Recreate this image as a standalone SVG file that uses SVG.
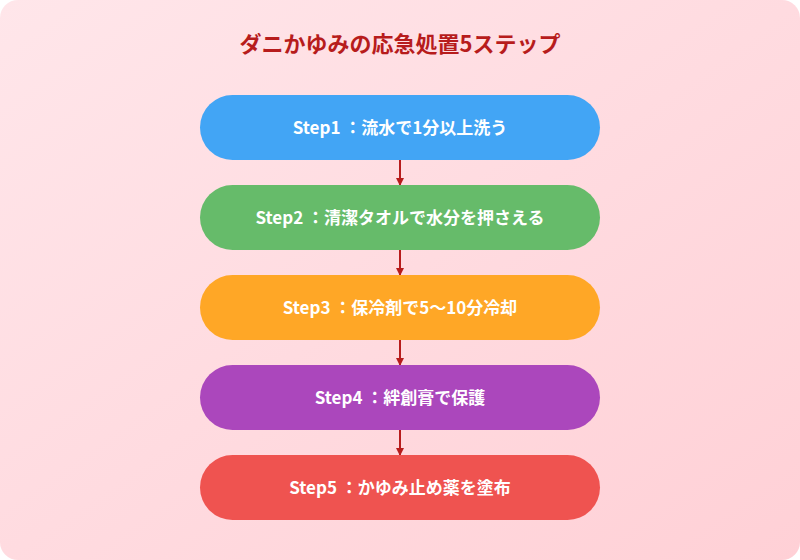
<svg xmlns="http://www.w3.org/2000/svg" width="800" height="560" viewBox="0 0 800 560">
<defs>
<linearGradient id="bg" x1="0" y1="0" x2="1" y2="1"><stop offset="0" stop-color="#ffe6ea"/><stop offset="1" stop-color="#ffd0d6"/></linearGradient>
<marker id="ah" markerWidth="8" markerHeight="8" refX="7" refY="4" orient="auto" markerUnits="userSpaceOnUse"><path d="M0,0 L8,4 L0,8 Z" fill="#b71c1c"/></marker>
</defs>
<style>
text{font-family:"Noto Sans CJK JP","Noto Sans",sans-serif;font-weight:bold;text-anchor:middle}
.t{fill:#fff;font-size:17px}
.c line{stroke:#b71c1c;stroke-width:2;marker-end:url(#ah)}
</style>
<rect x="0" y="0" width="800" height="560" rx="18" fill="url(#bg)"/>
<text x="400" y="52" font-size="22" fill="#b71c1c">ダニかゆみの応急処置5ステップ</text>
<g class="c">
<line x1="400" y1="160" x2="400" y2="185"/>
<line x1="400" y1="250" x2="400" y2="275"/>
<line x1="400" y1="340" x2="400" y2="365"/>
<line x1="400" y1="430" x2="400" y2="455"/>
</g>
<g id="s1"><rect x="200" y="95" width="400" height="65" rx="32.5" fill="#42a5f5"/><text class="t" x="400" y="134">Step1 ：流水で1分以上洗う</text></g>
<g id="s2"><rect x="200" y="185" width="400" height="65" rx="32.5" fill="#66bb6a"/><text class="t" x="400" y="224">Step2 ：清潔タオルで水分を押さえる</text></g>
<g id="s3"><rect x="200" y="275" width="400" height="65" rx="32.5" fill="#ffa726"/><text class="t" x="400" y="314">Step3 ：保冷剤で5〜10分冷却</text></g>
<g id="s4"><rect x="200" y="365" width="400" height="65" rx="32.5" fill="#ab47bc"/><text class="t" x="400" y="404">Step4 ：絆創膏で保護</text></g>
<g id="s5"><rect x="200" y="455" width="400" height="65" rx="32.5" fill="#ef5350"/><text class="t" x="400" y="494">Step5 ：かゆみ止め薬を塗布</text></g>
</svg>
